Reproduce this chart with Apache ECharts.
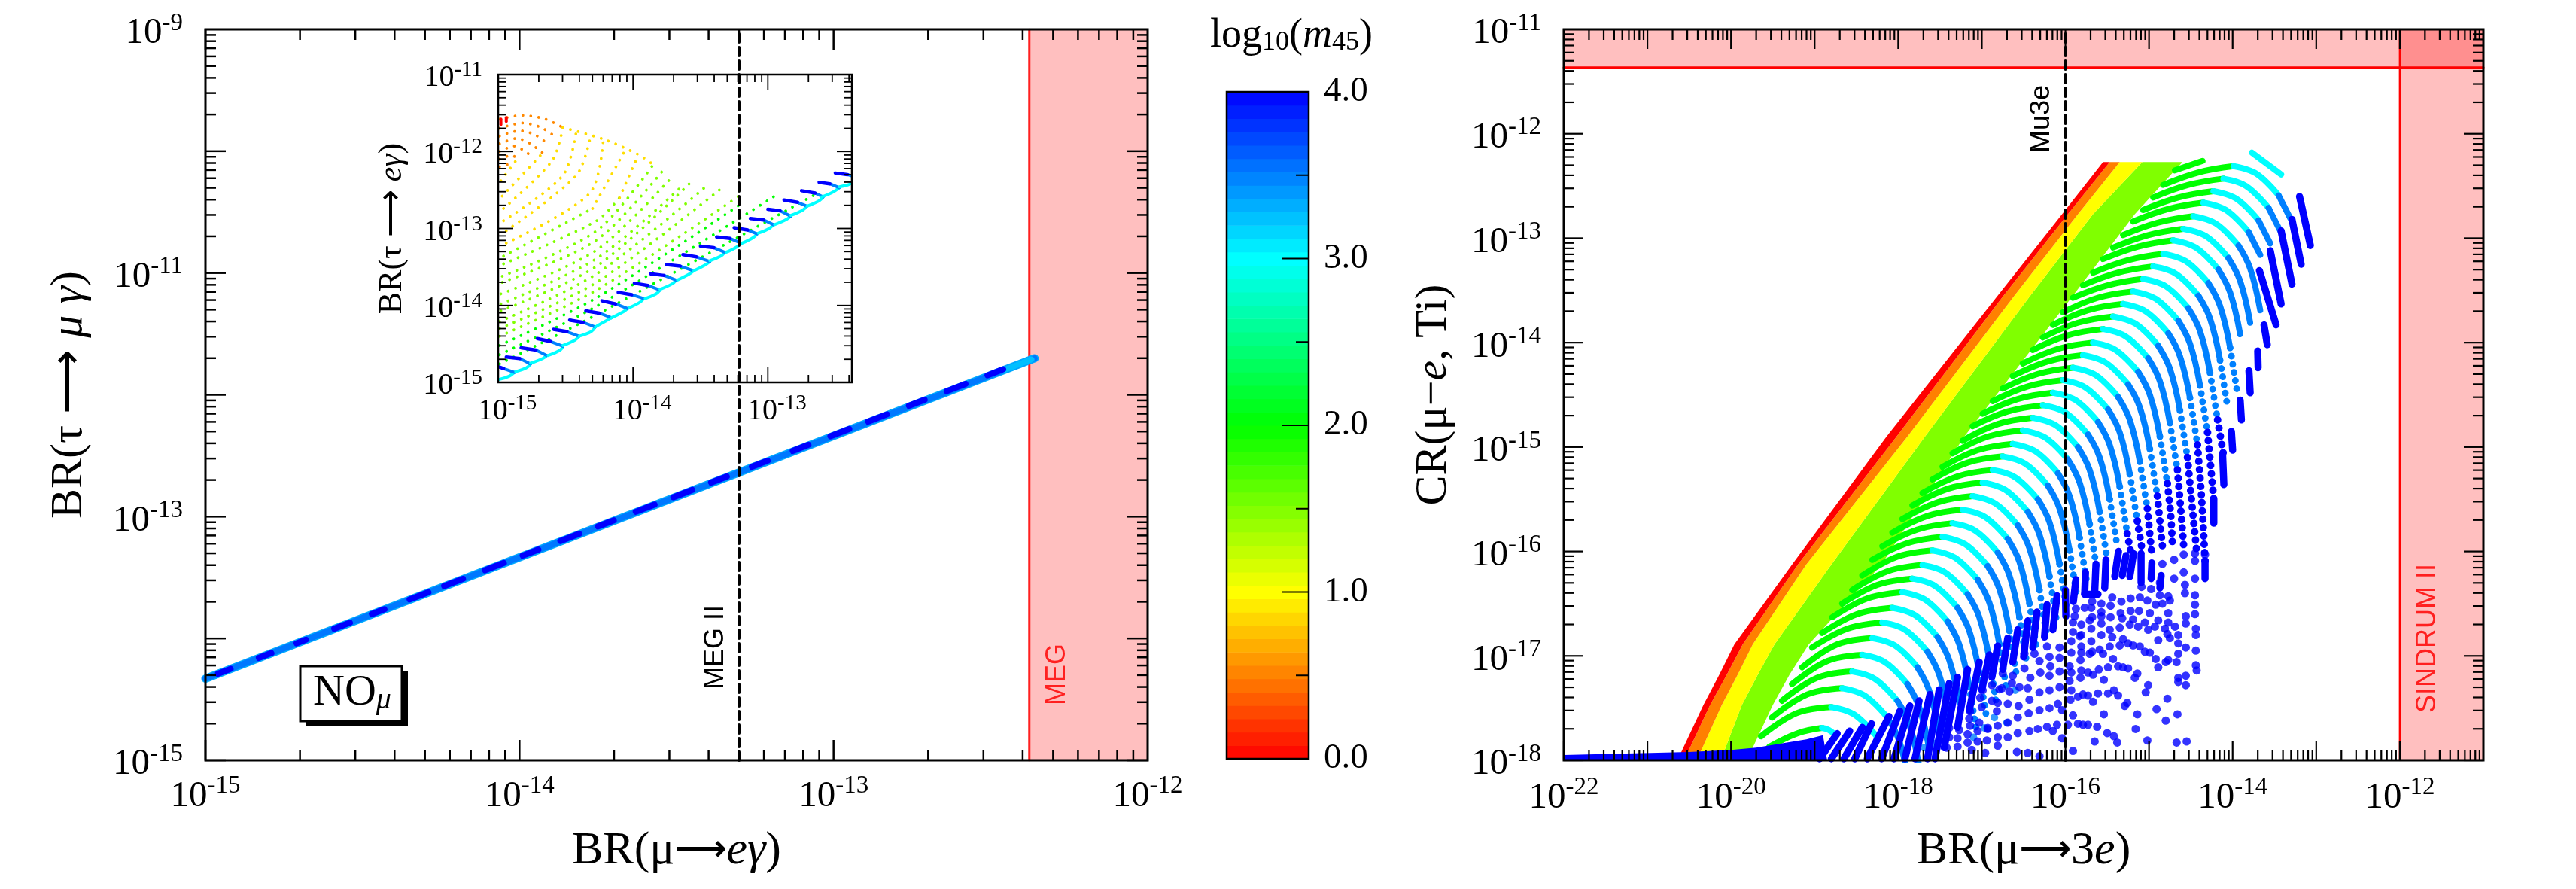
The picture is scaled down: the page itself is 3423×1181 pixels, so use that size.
<!DOCTYPE html>
<html>
<head>
<meta charset="utf-8">
<title>BR and CR scatter</title>
<style>
html,body{margin:0;background:#fff}
#chart{width:3423px;height:1181px}
</style>
<script src="https://cdn.jsdelivr.net/npm/echarts@6/dist/echarts.min.js"></script>
</head>
<body>
<div id="chart"></div>
<script>
// all points are log10(x), log10(y)

// limits
var megLimit = 4.2e-13, megTwo = 5e-14
var crLimit = 4.3e-12, sindrumLimit = 1e-12, mu3eLimit = 1e-16

// left panel, main band
var mainBand = [[-15,-14.33],[-12.36,-11.70]]
var mainTip = [[-12.46,-11.80],[-12.37,-11.71]]
var mainDashes = [
  [[-14.96,-14.29],[-14.92,-14.25]],[[-14.83,-14.16],[-14.79,-14.12]],[[-14.71,-14.04],[-14.68,-14.01]],
  [[-14.59,-13.92],[-14.54,-13.87]],[[-14.47,-13.80],[-14.43,-13.76]],[[-14.35,-13.68],[-14.29,-13.62]],
  [[-14.24,-13.57],[-14.18,-13.51]],[[-14.11,-13.44],[-14.05,-13.38]],[[-13.99,-13.32],[-13.94,-13.27]],
  [[-13.87,-13.20],[-13.81,-13.14]],[[-13.75,-13.08],[-13.70,-13.03]],[[-13.63,-12.96],[-13.57,-12.90]],
  [[-13.51,-12.84],[-13.45,-12.78]],[[-13.39,-12.72],[-13.34,-12.67]],[[-13.26,-12.59],[-13.21,-12.54]],
  [[-13.13,-12.46],[-13.08,-12.41]],[[-13.01,-12.34],[-12.95,-12.28]],[[-12.89,-12.22],[-12.83,-12.16]],
  [[-12.76,-12.09],[-12.71,-12.04]],[[-12.64,-11.97],[-12.58,-11.91]],[[-12.51,-11.84],[-12.46,-11.79]]
]

// inset, hooks: dark start, dark end, tip, lower, back on the diagonal
var insetHooks = [
  [[-14.99,-14.80],[-14.96,-14.82],[-14.88,-14.87],[-14.92,-14.92],[-14.99,-14.96]],
  [[-14.94,-14.67],[-14.84,-14.69],[-14.76,-14.76],[-14.79,-14.81],[-14.87,-14.86]],
  [[-14.83,-14.55],[-14.72,-14.58],[-14.64,-14.65],[-14.67,-14.69],[-14.76,-14.75]],
  [[-14.71,-14.43],[-14.61,-14.47],[-14.52,-14.53],[-14.54,-14.58],[-14.63,-14.65]],
  [[-14.59,-14.31],[-14.49,-14.34],[-14.40,-14.40],[-14.43,-14.45],[-14.52,-14.52]],
  [[-14.47,-14.19],[-14.37,-14.22],[-14.28,-14.28],[-14.31,-14.34],[-14.40,-14.40]],
  [[-14.35,-14.07],[-14.25,-14.10],[-14.16,-14.16],[-14.20,-14.20],[-14.28,-14.28]],
  [[-14.23,-13.94],[-14.13,-13.98],[-14.04,-14.04],[-14.07,-14.08],[-14.16,-14.16]],
  [[-14.11,-13.83],[-14.01,-13.86],[-13.92,-13.91],[-13.95,-13.96],[-14.03,-14.03]],
  [[-13.99,-13.71],[-13.89,-13.74],[-13.80,-13.80],[-13.83,-13.85],[-13.91,-13.91]],
  [[-13.87,-13.59],[-13.77,-13.61],[-13.68,-13.67],[-13.71,-13.72],[-13.80,-13.79]],
  [[-13.75,-13.47],[-13.65,-13.49],[-13.55,-13.55],[-13.59,-13.60],[-13.67,-13.67]],
  [[-13.63,-13.34],[-13.53,-13.37],[-13.43,-13.43],[-13.47,-13.48],[-13.55,-13.55]],
  [[-13.50,-13.23],[-13.40,-13.25],[-13.32,-13.31],[-13.35,-13.36],[-13.43,-13.42]],
  [[-13.38,-13.11],[-13.28,-13.13],[-13.20,-13.19],[-13.23,-13.24],[-13.31,-13.31]],
  [[-13.25,-12.99],[-13.15,-13.02],[-13.08,-13.07],[-13.11,-13.12],[-13.19,-13.19]],
  [[-13.13,-12.87],[-13.03,-12.89],[-12.96,-12.95],[-12.99,-13.00],[-13.07,-13.06]],
  [[-13.00,-12.75],[-12.91,-12.77],[-12.83,-12.84],[-12.86,-12.88],[-12.95,-12.95]],
  [[-12.88,-12.63],[-12.78,-12.66],[-12.71,-12.71],[-12.74,-12.76],[-12.83,-12.83]],
  [[-12.75,-12.51],[-12.65,-12.54],[-12.59,-12.59],[-12.62,-12.64],[-12.71,-12.71]],
  [[-12.62,-12.40],[-12.54,-12.42],[-12.47,-12.47],[-12.51,-12.52],[-12.60,-12.59]],
  [[-12.50,-12.28],[-12.41,-12.30],[-12.37,-12.32],[-12.37,-12.39],[-12.47,-12.46]]
]
var insetGreen = [
  [[-14.99,-14.76],[-14.27,-14.12],[-12.65,-12.56]],
  [[-14.99,-14.64],[-14.27,-14.01],[-12.95,-12.58]],
  [[-14.99,-14.52],[-14.27,-13.90],[-13.19,-12.67]]
]
var insetLime = [
  [[-14.99,-14.40],[-14.27,-13.80],[-13.20,-12.56]],
  [[-14.99,-14.30],[-14.27,-13.70],[-13.36,-12.50]],
  [[-14.99,-14.21],[-14.27,-13.59],[-13.45,-12.44]],
  [[-14.98,-14.07],[-14.27,-13.49],[-13.56,-12.38]],
  [[-14.98,-13.98],[-14.27,-13.39],[-13.63,-12.44]],
  [[-14.98,-13.85],[-14.27,-13.28],[-13.70,-12.31]],
  [[-14.97,-13.70],[-14.27,-13.15],[-13.77,-12.23]],
  [[-14.97,-13.62],[-14.27,-13.03],[-13.85,-12.17]],
  [[-14.96,-13.46],[-14.27,-12.90],[-14.10,-12.60]],
  [[-14.96,-13.36],[-14.30,-12.74]]
]
var insetYellow = [
  [[-14.10,-12.60],[-13.96,-12.04]],
  [[-14.30,-12.74],[-14.06,-11.99]],
  [[-14.94,-13.19],[-14.32,-12.54],[-14.22,-11.84]],
  [[-14.94,-13.03],[-14.42,-12.31],[-14.32,-11.84]],
  [[-14.96,-12.90],[-14.52,-12.31],[-14.42,-11.73]],
  [[-14.96,-12.74],[-14.60,-12.12],[-14.52,-11.69]],
  [[-14.97,-12.58],[-14.67,-12.02]],
  [[-14.98,-12.38],[-14.86,-12.10]],
  [[-14.52,-11.69],[-14.22,-11.84],[-13.96,-12.04],[-13.85,-12.17]]
]
var insetOrange = [
  [[-14.99,-11.58],[-14.82,-11.53],[-14.65,-11.58],[-14.52,-11.69]],
  [[-14.99,-11.70],[-14.82,-11.63],[-14.68,-11.69],[-14.56,-11.83]],
  [[-14.99,-11.80],[-14.84,-11.73],[-14.72,-11.79],[-14.62,-11.92]],
  [[-14.99,-11.90],[-14.86,-11.83],[-14.76,-11.90],[-14.67,-12.02]],
  [[-14.99,-12.00],[-14.88,-11.93],[-14.80,-12.00],[-14.74,-12.08]],
  [[-14.99,-12.10],[-14.90,-12.05],[-14.84,-12.12]],
  [[-14.99,-12.20],[-14.93,-12.17]]
]
var insetRed = [
  [[-14.98,-11.58],[-14.98,-11.65]],
  [[-14.94,-11.56],[-14.94,-11.61]]
]

// right panel, edges of the solid colour bands
var edge0 = [[-15.55,-12.27],[-16.04,-12.77],[-16.81,-13.55],[-18.14,-14.90],[-19.27,-16.125],[-19.96,-16.89],[-20.14,-17.18],[-20.33,-17.47],[-20.60,-17.93],[-20.65,-18]]
var edge1 = [[-15.47,-12.27],[-15.97,-12.77],[-16.74,-13.55],[-18.02,-14.90],[-19.20,-16.125],[-19.86,-16.89],[-20.05,-17.18],[-20.25,-17.47],[-20.52,-17.93],[-20.57,-18]]
var edge2 = [[-15.35,-12.27],[-15.85,-12.77],[-16.61,-13.55],[-17.89,-14.90],[-19.10,-16.125],[-19.74,-16.89],[-19.92,-17.18],[-20.11,-17.47],[-20.37,-17.93],[-20.42,-18]]
var edge3 = [[-15.08,-12.27],[-15.67,-12.77],[-16.42,-13.55],[-17.68,-14.90],[-18.80,-16.125],[-19.48,-16.89],[-19.68,-17.18],[-19.87,-17.47],[-20.09,-17.93],[-20.14,-18]]
var edge4 = [[-14.60,-12.27],[-15.17,-12.77],[-15.91,-13.55],[-17.21,-14.90],[-18.20,-16.125],[-19.07,-16.89],[-19.30,-17.18],[-19.50,-17.47],[-19.77,-17.93],[-19.80,-18]]
var darkBase = [[-22,-17.95],[-20.5,-17.92],[-20,-17.90],[-19.7,-17.88],[-19.4,-17.84],[-19.1,-17.80],[-18.9,-17.76],[-18.85,-18],[-22,-18]]

// arcs, top to bottom: green rising part ending at the apex
var arcGreen = [
  [[-14.83,-12.49],[-14.41,-12.37],[-13.99,-12.31]],[[-14.95,-12.61],[-14.53,-12.49],[-14.11,-12.43]],
  [[-15.07,-12.73],[-14.65,-12.61],[-14.23,-12.55]],[[-15.19,-12.84],[-14.77,-12.72],[-14.35,-12.66]],
  [[-15.31,-12.97],[-14.89,-12.85],[-14.47,-12.79]],[[-15.43,-13.09],[-15.01,-12.97],[-14.59,-12.91]],
  [[-15.55,-13.20],[-15.13,-13.08],[-14.71,-13.02]],[[-15.67,-13.33],[-15.25,-13.21],[-14.83,-13.15]],
  [[-15.79,-13.45],[-15.37,-13.33],[-14.95,-13.27]],[[-15.91,-13.57],[-15.49,-13.45],[-15.07,-13.39]],
  [[-16.03,-13.71],[-15.61,-13.57],[-15.19,-13.51]],[[-16.15,-13.83],[-15.73,-13.69],[-15.31,-13.63]],
  [[-16.27,-13.95],[-15.85,-13.81],[-15.43,-13.75]],[[-16.39,-14.07],[-15.97,-13.93],[-15.55,-13.87]],
  [[-16.51,-14.20],[-16.09,-14.06],[-15.67,-14.00]],[[-16.63,-14.32],[-16.21,-14.18],[-15.79,-14.12]],
  [[-16.75,-14.44],[-16.33,-14.30],[-15.91,-14.24]],[[-16.87,-14.56],[-16.45,-14.42],[-16.03,-14.36]],
  [[-16.99,-14.68],[-16.57,-14.54],[-16.15,-14.48]],[[-17.11,-14.80],[-16.69,-14.66],[-16.27,-14.60]],
  [[-17.23,-14.94],[-16.81,-14.78],[-16.39,-14.72]],[[-17.35,-15.06],[-16.93,-14.90],[-16.51,-14.84]],
  [[-17.47,-15.19],[-17.05,-15.03],[-16.63,-14.97]],[[-17.59,-15.31],[-17.17,-15.15],[-16.75,-15.09]],
  [[-17.71,-15.44],[-17.29,-15.28],[-16.87,-15.22]],[[-17.83,-15.56],[-17.41,-15.40],[-16.99,-15.34]],
  [[-17.95,-15.69],[-17.53,-15.53],[-17.11,-15.47]],[[-18.07,-15.82],[-17.65,-15.66],[-17.23,-15.60]],
  [[-18.19,-15.95],[-17.77,-15.79],[-17.35,-15.73]],[[-18.31,-16.08],[-17.89,-15.92],[-17.47,-15.86]],
  [[-18.43,-16.23],[-18.01,-16.05],[-17.59,-15.99]],[[-18.55,-16.37],[-18.13,-16.19],[-17.71,-16.13]],
  [[-18.67,-16.50],[-18.25,-16.32],[-17.83,-16.26]],[[-18.79,-16.63],[-18.37,-16.45],[-17.95,-16.39]],
  [[-18.91,-16.78],[-18.49,-16.60],[-18.07,-16.54]],[[-19.03,-16.92],[-18.61,-16.74],[-18.19,-16.68]],
  [[-19.15,-17.11],[-18.73,-16.89],[-18.31,-16.83]],[[-19.27,-17.27],[-18.85,-17.05],[-18.43,-16.99]],
  [[-19.39,-17.43],[-18.97,-17.21],[-18.55,-17.15]],[[-19.51,-17.59],[-19.09,-17.37],[-18.67,-17.31]],
  [[-19.64,-17.77],[-19.22,-17.55],[-18.80,-17.49]],[[-19.54,-17.87],[-19.20,-17.74],[-18.91,-17.69]]
]
// cyan part after the apex
var arcCyan = [
  [[-13.72,-12.38],[-13.45,-12.59]],[[-13.84,-12.50],[-13.57,-12.71]],[[-13.96,-12.62],[-13.69,-12.83]],
  [[-14.08,-12.73],[-13.81,-12.94]],[[-14.20,-12.86],[-13.93,-13.07]],[[-14.32,-12.98],[-14.05,-13.19]],
  [[-14.44,-13.09],[-14.17,-13.30]],[[-14.56,-13.22],[-14.29,-13.43]],[[-14.68,-13.34],[-14.41,-13.55]],
  [[-14.80,-13.46],[-14.53,-13.67]],[[-14.92,-13.58],[-14.65,-13.79]],[[-15.04,-13.70],[-14.77,-13.91]],
  [[-15.16,-13.82],[-14.89,-14.03]],[[-15.28,-13.94],[-15.01,-14.15]],[[-15.40,-14.07],[-15.13,-14.28]],
  [[-15.52,-14.19],[-15.25,-14.40]],[[-15.64,-14.31],[-15.37,-14.52]],[[-15.76,-14.43],[-15.49,-14.64]],
  [[-15.88,-14.55],[-15.61,-14.76]],[[-16.00,-14.67],[-15.73,-14.88]],[[-16.12,-14.79],[-15.85,-15.00]],
  [[-16.24,-14.91],[-15.97,-15.12]],[[-16.36,-15.04],[-16.09,-15.25]],[[-16.48,-15.16],[-16.21,-15.37]],
  [[-16.60,-15.29],[-16.33,-15.50]],[[-16.72,-15.41],[-16.45,-15.62]],[[-16.84,-15.54],[-16.57,-15.75]],
  [[-16.96,-15.67],[-16.69,-15.88]],[[-17.08,-15.80],[-16.81,-16.01]],[[-17.20,-15.93],[-16.93,-16.14]],
  [[-17.32,-16.06],[-17.05,-16.27]],[[-17.44,-16.20],[-17.17,-16.41]],[[-17.56,-16.33],[-17.29,-16.54]],
  [[-17.68,-16.46],[-17.41,-16.67]],[[-17.80,-16.61],[-17.53,-16.82]],[[-17.92,-16.75],[-17.65,-16.96]],
  [[-18.04,-16.90],[-17.77,-17.11]],[[-18.16,-17.06],[-17.89,-17.27]],[[-18.28,-17.22],[-18.01,-17.43]],
  [[-18.40,-17.38],[-18.13,-17.59]],[[-18.53,-17.56],[-18.26,-17.77]],[[-18.83,-17.71],[-18.75,-17.76]]
]
// lighter blue solid part, the two lowest arcs have none
var arcBlue = [
  [[-13.31,-12.81]],[[-13.43,-12.93]],[[-13.55,-13.05]],[[-13.67,-13.16]],
  [[-13.79,-13.29],[-13.67,-13.69]],[[-13.91,-13.41],[-13.79,-13.81]],[[-14.03,-13.52],[-13.91,-13.92]],
  [[-14.15,-13.65],[-14.03,-14.05]],[[-14.27,-13.77],[-14.15,-14.17]],[[-14.39,-13.89],[-14.27,-14.29]],
  [[-14.51,-14.01],[-14.39,-14.41]],[[-14.63,-14.13],[-14.51,-14.53]],[[-14.75,-14.25],[-14.63,-14.65]],
  [[-14.87,-14.37],[-14.75,-14.77]],[[-14.99,-14.50],[-14.87,-14.90]],[[-15.11,-14.62],[-14.99,-15.02]],
  [[-15.23,-14.74],[-15.11,-15.14]],[[-15.35,-14.86],[-15.23,-15.26]],[[-15.47,-14.98],[-15.35,-15.38]],
  [[-15.59,-15.10],[-15.47,-15.50]],[[-15.71,-15.22],[-15.59,-15.62]],[[-15.83,-15.34],[-15.71,-15.74]],
  [[-15.95,-15.47],[-15.83,-15.87]],[[-16.07,-15.59],[-15.95,-15.99]],[[-16.19,-15.72],[-16.07,-16.12]],
  [[-16.31,-15.84],[-16.19,-16.24]],[[-16.43,-15.97],[-16.31,-16.37]],[[-16.55,-16.10],[-16.43,-16.50]],
  [[-16.67,-16.23],[-16.55,-16.63]],[[-16.79,-16.36],[-16.67,-16.76]],[[-16.91,-16.49],[-16.79,-16.89]],
  [[-17.03,-16.63],[-16.91,-17.03]],[[-17.15,-16.76],[-17.03,-17.16]],[[-17.27,-16.89],[-17.15,-17.29]],
  [[-17.39,-17.04],[-17.27,-17.44]],[[-17.51,-17.18],[-17.39,-17.58]],[[-17.63,-17.33],[-17.51,-17.73]],
  [[-17.75,-17.49],[-17.63,-17.89]],[[-17.87,-17.65],[-17.75,-18.05]],[[-17.99,-17.81],[-17.87,-18.21]]
]
// where the lighter blue turns to separate beads, arcs 8 to 34
var beadFirstArc = 7
var arcBead = [
  [-13.94,-14.50],[-14.06,-14.62],[-14.18,-14.74],[-14.30,-14.86],[-14.42,-14.98],[-14.54,-15.10],[-14.66,-15.22],
  [-14.78,-15.35],[-14.90,-15.47],[-15.02,-15.59],[-15.14,-15.71],[-15.26,-15.83],[-15.38,-15.95],[-15.50,-16.07],
  [-15.62,-16.19],[-15.74,-16.32],[-15.86,-16.44],[-15.98,-16.57],[-16.10,-16.69],[-16.22,-16.82],[-16.34,-16.95],
  [-16.46,-17.08],[-16.58,-17.21],[-16.70,-17.34],[-16.82,-17.48],[-16.94,-17.61],[-17.06,-17.74]
]
var arcDarkBeads = [
  [[-14.18,-14.74],[-14.11,-15.07]],[[-14.30,-14.86],[-14.225,-15.51]],[[-14.42,-14.98],[-14.37,-15.5],[-14.33,-16.09]],
  [[-14.54,-15.10],[-14.48,-15.6],[-14.43,-16.0]],[[-14.66,-15.22],[-14.62,-15.6],[-14.58,-16.0]],
  [[-14.78,-15.35],[-14.74,-15.65],[-14.72,-15.93]],[[-14.90,-15.47],[-14.84,-15.95]],[[-15.02,-15.59],[-14.97,-16.0]],
  [[-15.14,-15.71],[-15.08,-16.0]],[[-15.26,-15.83],[-15.22,-16.0]]
]
// loose pieces at the top of the cloud
var topGreen = [[-14.69,-12.35],[-14.36,-12.26]]
var topCyan = [[-13.77,-12.18],[-13.42,-12.39]]
// solid dark strokes
var darkStrokes = [
  [[-18.94,-17.985],[-18.73,-17.745]],[[-18.80,-17.985],[-18.58,-17.72]],[[-18.65,-17.985],[-18.43,-17.685]],
  [[-18.52,-17.985],[-18.32,-17.65]],[[-18.37,-17.985],[-18.11,-17.58]],[[-18.20,-17.985],[-17.98,-17.53]],
  [[-18.05,-17.985],[-17.86,-17.48]],[[-17.92,-17.985],[-17.75,-17.43]],[[-17.80,-17.985],[-17.62,-17.37]],
  [[-17.65,-17.985],[-17.51,-17.325]],[[-17.56,-17.985],[-17.39,-17.265]],[[-17.45,-17.88],[-17.29,-17.205]],
  [[-17.29,-17.685],[-17.17,-17.13]],[[-17.15,-17.52],[-17.03,-17.06]],[[-17.00,-17.325],[-16.91,-16.99]],
  [[-16.88,-17.205],[-16.81,-16.905]],[[-16.75,-17.13],[-16.69,-16.83]],[[-16.63,-17.06],[-16.57,-16.75]],
  [[-16.50,-17.01],[-16.45,-16.665]],[[-16.39,-16.92],[-16.34,-16.58]],[[-16.25,-16.82],[-16.22,-16.51]],
  [[-16.15,-16.75],[-16.10,-16.425]],[[-15.995,-16.62],[-16.00,-16.37]],[[-15.905,-16.48],[-15.875,-16.27]],
  [[-15.77,-16.41],[-15.76,-16.20]],[[-15.65,-16.40],[-15.635,-16.12]],[[-15.53,-16.35],[-15.515,-16.08]],
  [[-15.41,-16.24],[-15.365,-16.00]],[[-15.32,-16.23],[-15.275,-16.04]],[[-15.23,-16.24],[-15.185,-16.02]],
  [[-15.095,-16.30],[-15.095,-16.02]],[[-14.975,-16.26],[-14.966,-16.11]],[[-14.87,-16.35],[-14.855,-16.23]],
  [[-15.77,-16.41],[-15.61,-16.41]],
  // right hand ends of the high arcs
  [[-14.33,-16.09],[-14.33,-16.26]],[[-14.225,-15.51],[-14.225,-15.73]],[[-14.12,-15.07],[-14.105,-15.36]],
  [[-14.015,-14.85],[-14.00,-15.03]],[[-13.91,-14.55],[-13.895,-14.74]],[[-13.805,-14.27],[-13.79,-14.48]],
  [[-13.70,-14.08],[-13.695,-14.24]],[[-13.625,-13.83],[-13.585,-14.02]],[[-13.68,-13.31],[-13.48,-13.83]],
  [[-13.55,-13.12],[-13.42,-13.63]],[[-13.42,-12.93],[-13.29,-13.44]],[[-13.29,-12.82],[-13.18,-13.25]],
  [[-13.20,-12.60],[-13.07,-13.07]]
]
var lightDots = [
  [-16.97,-17.69],[-17.10,-17.78],[-17.43,-17.64],[-17.42,-17.72],[-16.85,-17.59],[-16.70,-17.64],[-16.60,-17.33],[-17.69,-17.88],[-17.56,-17.84]
]
var darkDots = [
  [-14.45,-16.42],[-14.45,-16.51],[-14.45,-16.60],[-14.56,-16.62],[-14.56,-16.69],[-14.44,-16.74],[-14.44,-16.80],[-14.44,-16.95],[-14.44,-17.09],[-14.43,-17.14],
  [-14.56,-16.92],[-14.65,-16.80],[-14.65,-16.88],[-14.65,-16.98],[-14.67,-17.06],[-14.65,-17.21],[-14.65,-17.25],[-14.56,-17.19],[-14.56,-17.28],[-14.78,-17.41],
  [-14.91,-17.51],[-14.66,-17.56],[-14.80,-17.62],[-15.14,-17.56],[-15.54,-17.56],[-15.91,-17.57],[-14.67,-17.83],[-14.55,-17.82],[-15.02,-17.81],[-15.16,-17.70],
  [-15.38,-17.83],[-15.42,-17.77],[-15.50,-17.74],[-15.62,-17.68],[-15.65,-17.82],[-15.73,-17.66],[-15.79,-17.66],[-15.85,-17.65],[-15.97,-17.66],[-16.10,-17.66],
  [-16.15,-17.72],[-16.22,-17.68],[-16.33,-17.70],[-16.43,-17.72],[-16.57,-17.74],[-16.69,-17.78],[-16.81,-17.78],[-16.81,-17.86],[-15.91,-17.91],[-16.58,-17.92],
  [-16.45,-17.93],[-16.31,-17.96],[-16.04,-17.79],[-16.04,-17.52],[-16.19,-17.50],[-16.31,-17.52],[-16.44,-17.55],[-16.57,-17.59],[-16.69,-17.64],[-16.81,-17.67],
  [-16.82,-17.53],[-16.56,-17.48],[-16.69,-17.46],[-16.81,-17.45],[-16.79,-17.32],[-16.67,-17.34],[-16.55,-17.30],[-16.45,-17.31],[-16.31,-17.35],[-16.19,-17.33],
  [-16.07,-17.30],[-15.93,-17.33],[-15.95,-17.24],[-16.07,-17.15],[-16.19,-17.19],[-16.30,-17.16],[-16.42,-17.21],[-16.64,-17.26],[-16.76,-17.31],[-16.09,-17.46],
  [-15.94,-17.42],[-15.85,-17.39],[-15.79,-17.37],[-15.73,-17.38],[-15.61,-17.36],[-15.49,-17.36],[-15.42,-17.33],[-15.37,-17.38],[-15.67,-17.44],[-15.54,-17.23],
  [-15.73,-17.16],[-15.67,-17.18],[-15.60,-17.13],[-15.82,-17.21],[-15.81,-17.14],[-15.95,-17.10],[-15.93,-17.16],[-16.07,-17.02],[-16.19,-17.01],[-16.18,-17.10],
  [-15.82,-17.04],[-15.81,-16.91],[-15.81,-16.97],[-15.93,-16.97],[-15.93,-16.86],[-15.81,-16.80],[-15.69,-16.86],[-15.71,-16.98],[-15.68,-16.96],[-15.59,-16.94],
  [-15.55,-16.98],[-15.47,-16.91],[-15.43,-17.03],[-15.49,-17.11],[-15.37,-17.10],[-15.31,-17.11],[-15.25,-17.12],[-15.14,-17.17],[-15.17,-17.21],[-15.01,-17.28],
  [-15.04,-17.35],[-15.26,-17.45],[-15.29,-17.48],[-14.92,-17.03],[-14.89,-17.11],[-14.80,-17.06],[-14.77,-17.04],[-15.05,-16.96],[-14.99,-16.97],[-15.25,-16.88],
  [-15.19,-16.90],[-15.11,-16.91],[-15.35,-16.90],[-15.31,-16.84],[-15.47,-16.75],[-15.44,-16.82],[-15.57,-16.80],[-15.69,-16.74],[-15.83,-16.81],[-15.91,-16.77],
  [-15.81,-16.70],[-15.91,-16.68],[-15.71,-16.66],[-15.68,-16.63],[-15.57,-16.62],[-15.57,-16.69],[-15.46,-16.63],[-15.34,-16.59],[-15.32,-16.64],[-15.35,-16.73],
  [-15.23,-16.70],[-15.19,-16.65],[-15.13,-16.72],[-15.05,-16.68],[-15.01,-16.75],[-14.93,-16.72],[-14.89,-16.66],[-14.81,-16.74],[-14.78,-16.79],[-14.75,-16.83],
  [-14.89,-16.85],[-14.69,-16.72],[-14.77,-16.68],[-14.77,-16.59],[-14.77,-16.43],[-14.87,-16.42],[-14.99,-16.59],[-15.12,-16.57],[-15.22,-16.57],[-15.33,-16.48],
  [-15.22,-16.45],[-15.11,-16.44],[-15.02,-16.47],[-14.92,-16.51],[-14.84,-16.50],[-14.75,-16.47],[-15.44,-16.44],[-15.46,-16.52],[-15.57,-16.50],[-15.57,-16.58],
  [-15.68,-16.48],[-15.69,-16.54],[-15.77,-16.54],[-15.875,-16.55],[-15.89,-16.62],[-15.09,-16.34],[-14.975,-16.36],[-14.87,-16.30],[-14.70,-16.26],[-14.585,-16.20],
  [-14.45,-16.26],[-14.57,-16.32],[-14.57,-16.40],[-14.45,-16.09],[-14.45,-16.02],[-14.33,-16.03],[-14.585,-16.03],[-14.70,-16.08],[-14.84,-16.12],
  [-17.27,-17.71],[-17.29,-17.79],[-17.29,-17.87],[-17.17,-17.83],[-17.17,-17.75],[-17.05,-17.72],[-17.14,-17.67],[-17.15,-17.60],[-17.03,-17.64],[-17.00,-17.49],
  [-17.02,-17.40],[-17.14,-17.53],[-17.05,-17.82],[-17.12,-17.90],[-17.42,-17.88],[-17.39,-17.69],[-17.39,-17.78],[-16.99,-17.33],[-16.96,-17.93],[-16.94,-17.81],
  [-16.93,-17.69],[-16.37,-16.98],[-16.49,-16.98],[-16.63,-17.19],[-16.75,-17.17],[-16.49,-17.12],[-16.88,-17.28],[-16.88,-17.43],[-16.93,-17.70],[-16.43,-17.42],
  [-16.07,-16.92],[-16.22,-16.91],[-16.31,-17.05]
]

var colorStops = ['#ff0000','#ff8000','#ffff00','#80ff00','#00ff00','#00ff80','#00ffff','#0080ff','#0000ff']
var bandCount = 50
var colorTicks = [0, 0.5, 1, 1.5, 2, 2.5, 3, 3.5, 4]
var serif = 'Liberation Serif', sans = 'Liberation Sans'

function pow(p) { return [Math.pow(10, p[0]), Math.pow(10, p[1])] }

function line(points, color, width, grid, extra) {
  var s = {
    type: 'line', xAxisIndex: grid, yAxisIndex: grid, data: points.map(pow), symbol: 'none', silent: true,
    lineStyle: { color: color, width: width, cap: 'round' }, z: 3
  }
  if (extra) {
    if (extra.dash) s.lineStyle.type = extra.dash
    if (extra.smooth) s.smooth = extra.smooth
    if (extra.z) s.z = extra.z
  }
  return s
}

function polygon(points, color, grid, z) {
  var pts = points.map(pow)
  return {
    type: 'custom', xAxisIndex: grid, yAxisIndex: grid, silent: true, z: z, data: [pts[0]], encode: { x: 0, y: 1 },
    renderItem: function (params, api) {
      return { type: 'polygon', shape: { points: pts.map(function (p) { return api.coord(p) }) }, style: { fill: color } }
    }
  }
}

// frame, mirrored ticks and the minor decade ticks, the log axis has no 2..9 ticks of its own
function frame(grid, xr, yr, major, minor, tickWidth, frameWidth) {
  var data = [[xr[0], yr[0], 4, 0]]
  var e, m, v
  for (e = Math.floor(Math.log10(xr[0]) + 0.01); e < Math.log10(xr[1]); e++) {
    for (m = 1; m < 10; m++) {
      v = m * Math.pow(10, e)
      if (v < xr[0] * 0.999 || v > xr[1] * 1.001) continue
      data.push([v, yr[0], 0, m === 1 ? major : minor])
      data.push([v, yr[0], 1, m === 1 ? major : minor])
    }
  }
  for (e = Math.floor(Math.log10(yr[0]) + 0.01); e < Math.log10(yr[1]); e++) {
    for (m = 1; m < 10; m++) {
      v = m * Math.pow(10, e)
      data.push([xr[0], v, 2, m === 1 ? major : minor])
      data.push([xr[0], v, 3, m === 1 ? major : minor])
    }
  }
  return {
    type: 'custom', xAxisIndex: grid, yAxisIndex: grid, silent: true, z: 8, data: data, encode: { x: 0, y: 1 },
    renderItem: function (params, api) {
      var r = params.coordSys, side = api.value(2), len = api.value(3)
      if (side === 4) {
        return { type: 'rect', shape: { x: r.x, y: r.y, width: r.width, height: r.height }, style: { fill: 'none', stroke: '#000', lineWidth: frameWidth } }
      }
      var p = api.coord([api.value(0), api.value(1)]), s
      if (side === 0) s = { x1: p[0], y1: r.y + r.height, x2: p[0], y2: r.y + r.height - len }
      if (side === 1) s = { x1: p[0], y1: r.y, x2: p[0], y2: r.y + len }
      if (side === 2) s = { x1: r.x, y1: p[1], x2: r.x + len, y2: p[1] }
      if (side === 3) s = { x1: r.x + r.width, y1: p[1], x2: r.x + r.width - len, y2: p[1] }
      return { type: 'line', shape: s, style: { stroke: '#000', lineWidth: tickWidth } }
    }
  }
}

function expRich(size, supSize) {
  return {
    b: { fontFamily: serif, fontSize: size, color: '#000', fill: '#000', padding: [Math.round(size * 0.22), 0, 0, 0], lineHeight: size },
    s: { fontFamily: serif, fontSize: supSize, color: '#000', fill: '#000', verticalAlign: 'top', lineHeight: supSize }
  }
}

// ticks below 1e-20 get rounded to 0 inside the scale, those labels stay empty
function expLabel(size, supSize, which) {
  return {
    show: true, showMinLabel: true, showMaxLabel: true, hideOverlap: false,
    fontFamily: serif, color: '#000', margin: which.margin, padding: which.padding || 0,
    formatter: function (v) {
      if (!(v > 0)) return ''
      var l = Math.log10(v), e = Math.round(l)
      if (Math.abs(l - e) > 0.01) return ''
      if (which.step === 2 && (e - which.first) % 2 !== 0) return ''
      return '{b|10}{s|' + e + '}'
    },
    rich: expRich(size, supSize)
  }
}

function logAxis(grid, min, max, label, name) {
  var a = {
    gridIndex: grid, type: 'log', logBase: 10, min: min, max: max, interval: 1,
    splitNumber: Math.ceil(Math.log10(max) - Math.log10(min) - 0.001),
    axisLine: { show: false }, splitLine: { show: false }, minorTick: { show: false }, minorSplitLine: { show: false },
    axisTick: { show: false }, axisLabel: label
  }
  if (name) {
    a.name = name.text
    a.nameLocation = 'middle'
    a.nameGap = name.gap
    a.nameTextStyle = { fontFamily: serif, fontSize: name.size, color: '#000', rich: name.rich }
  }
  return a
}

function titleRich(size) {
  return {
    t: { fontFamily: serif, fontSize: size, color: '#000' },
    i: { fontFamily: serif, fontSize: size, fontStyle: 'italic', color: '#000' }
  }
}

var grids = [
  { left: 273, top: 39, width: 1252, height: 971, outerBoundsMode: 'none' },
  { left: 662, top: 99, width: 470, height: 409, outerBoundsMode: 'none' },
  { left: 1630, top: 122, width: 109, height: 886, outerBoundsMode: 'none' },
  { left: 2078, top: 39, width: 1222, height: 971, outerBoundsMode: 'none' }
]

var xAxes = [
  logAxis(0, 1e-15, 1e-12, expLabel(49, 33, { margin: 18, first: -15 })),
  logAxis(1, 1e-15, megLimit, expLabel(40, 29, { margin: 14, first: -15, padding: [0, 0, 0, 24] })),
  { gridIndex: 2, type: 'value', min: 0, max: 1, show: false },
  logAxis(3, 1e-22, 1e-11, expLabel(49, 33, { margin: 20, first: -22, step: 2 }))
]

var yAxes = [
  logAxis(0, 1e-15, 1e-9, expLabel(49, 33, { margin: 30, first: -15, step: 2 }),
    { text: '{t|BR(τ ⟶ }{i|μ γ}{t|)}', gap: 151, size: 60, rich: titleRich(60) }),
  logAxis(1, 1e-15, 1e-11, expLabel(40, 29, { margin: 21, first: -15 }),
    { text: '{t|BR(τ ⟶ }{i|eγ}{t|)}', gap: 119, size: 44, rich: titleRich(44) }),
  {
    gridIndex: 2, type: 'value', min: 0, max: 4, interval: 1, position: 'right',
    axisLine: { show: false }, splitLine: { show: false }, axisTick: { show: false },
    axisLabel: { margin: 20, fontFamily: serif, fontSize: 47, color: '#000', formatter: function (v) { return v.toFixed(1) } }
  },
  logAxis(3, 1e-18, 1e-11, expLabel(49, 33, { margin: 30, first: -18 }),
    { text: '{t|CR(μ−}{i|e}{t|, Ti)}', gap: 143, size: 60, rich: titleRich(60) })
]

var series = []

// left panel
series.push(polygon([[Math.log10(megLimit), -15], [-12, -15], [-12, -9], [Math.log10(megLimit), -9]], 'rgba(255,0,0,0.25)', 0, 1))
series.push(line([[Math.log10(megLimit), -15], [Math.log10(megLimit), -9]], '#ff2020', 3, 0, { z: 2 }))
series.push(line(mainBand, '#00aaff', 11, 0))
series.push(line(mainBand, '#0078ff', 8, 0, { z: 4 }))
series.push(line(mainTip, '#00bfff', 8, 0, { z: 5 }))
mainDashes.forEach(function (d) { series.push(line(d, '#0000ff', 8, 0, { z: 5 })) })
series.push(line([[Math.log10(megTwo), -15], [Math.log10(megTwo), -9]], '#000', 4, 0, { z: 9, dash: [11, 7] }))
series.push(frame(0, [1e-15, 1e-12], [1e-15, 1e-9], 27, 14, 2.5, 3))

// inset
function insetDots(rows, color) {
  rows.forEach(function (r) { series.push(line(r, color, 3.8, 1, { dash: [0.01, 10.5], smooth: 0.3 })) })
}
insetDots(insetGreen, '#00ff00')
insetDots(insetLime, '#80ff00')
insetDots(insetYellow, '#ffdd00')
insetDots(insetOrange, '#ff8800')
insetRed.forEach(function (r) { series.push(line(r, '#ff0000', 4, 1, { z: 4 })) })
insetHooks.forEach(function (h) {
  series.push(line([h[2], h[3], h[4]], '#00ffff', 4, 1, { z: 4, smooth: 0.4 }))
  series.push(line([h[1], h[2]], '#0080ff', 4, 1, { z: 4, smooth: 0.4 }))
  series.push(line([h[0], h[1]], '#0000ff', 4.5, 1, { z: 5 }))
})
series.push(frame(1, [1e-15, megLimit], [1e-15, 1e-11], 20, 10, 1.8, 2.5))

// colour bar
series.push({
  type: 'custom', xAxisIndex: 2, yAxisIndex: 2, silent: true, z: 2, encode: { x: 0, y: 1 },
  data: new Array(bandCount).fill(0).map(function (_, i) { return [0, i * 4 / bandCount] }),
  renderItem: function (params, api) {
    var lo = api.value(1), hi = lo + 4 / bandCount
    var a = api.coord([0, lo]), b = api.coord([1, hi])
    var t = (params.dataIndex + 0.5) / bandCount * (colorStops.length - 1), i = Math.floor(t)
    return {
      type: 'rect', shape: { x: a[0], y: b[1], width: b[0] - a[0], height: a[1] - b[1] + 0.6 },
      style: { fill: echarts.color.lerp(t - i, [colorStops[i], colorStops[i + 1]]) }
    }
  }
})
series.push({
  type: 'custom', xAxisIndex: 2, yAxisIndex: 2, silent: true, z: 8, encode: { x: 0, y: 1 },
  data: colorTicks.map(function (v) { return [1, v] }),
  renderItem: function (params, api) {
    var v = api.value(1), p = api.coord([1, v]), len = v % 1 === 0 ? 35 : 17
    var tick = { type: 'line', shape: { x1: p[0], y1: p[1], x2: p[0] - len, y2: p[1] }, style: { stroke: '#000', lineWidth: 2 } }
    if (params.dataIndex !== 0) return tick
    var r = params.coordSys
    return {
      type: 'group',
      children: [tick, { type: 'rect', shape: { x: r.x, y: r.y, width: r.width, height: r.height }, style: { fill: 'none', stroke: '#000', lineWidth: 2.5 } }]
    }
  }
})

// right panel
var crLog = Math.log10(crLimit), sinLog = Math.log10(sindrumLimit), mu3eLog = Math.log10(mu3eLimit)
series.push(polygon([[-22, crLog], [-11, crLog], [-11, -11], [-22, -11]], 'rgba(255,0,0,0.25)', 3, 1))
series.push(polygon([[sinLog, -18], [-11, -18], [-11, -11], [sinLog, -11]], 'rgba(255,0,0,0.25)', 3, 1))
series.push(line([[-22, crLog], [-11, crLog]], '#ff0000', 3, 3, { z: 2 }))
series.push(line([[sinLog, -18], [sinLog, -11]], '#ff0000', 2.5, 3, { z: 2 }))
series.push(polygon(edge3.concat(edge4.slice().reverse()), '#80ff00', 3, 2))
series.push(polygon(edge2.concat(edge3.slice().reverse()), '#ffff00', 3, 2))
series.push(polygon(edge1.concat(edge2.slice().reverse()), '#ff8000', 3, 2))
series.push(polygon(edge0.concat(edge1.slice().reverse()), '#ff0000', 3, 2))
series.push(polygon(darkBase, '#0000ff', 3, 6))
arcGreen.forEach(function (g, i) {
  var apex = g[g.length - 1], cy = [apex].concat(arcCyan[i]), last = cy[cy.length - 1]
  series.push(line(g, '#00ff00', 8, 3, { smooth: 0.4 }))
  series.push(line(cy, '#00ffff', 8, 3, { smooth: 0.4 }))
  if (arcBlue[i]) {
    var bl = [last].concat(arcBlue[i])
    series.push(line(bl, '#0080ff', 8, 3, { smooth: 0.4 }))
    var bead = arcBead[i - beadFirstArc]
    if (i >= beadFirstArc && bead) {
      series.push(line([bl[bl.length - 1], bead], '#0080ff', 9, 3, { dash: [0.01, 11] }))
    }
  }
})
series.push(line(topGreen, '#00ff00', 8, 3))
series.push(line(topCyan, '#00ffff', 8, 3))
arcDarkBeads.forEach(function (r) { series.push(line(r, '#0000ff', 10, 3, { z: 5, dash: [0.01, 11], smooth: 0.3 })) })
darkStrokes.forEach(function (r) { series.push(line(r, '#0000ff', 9.5, 3, { z: 6 })) })
series.push({
  type: 'scatter', xAxisIndex: 3, yAxisIndex: 3, silent: true, z: 5, symbolSize: 10,
  itemStyle: { color: '#0080ff' }, data: lightDots.map(pow)
})
series.push({
  type: 'scatter', xAxisIndex: 3, yAxisIndex: 3, silent: true, z: 6, symbolSize: 11,
  itemStyle: { color: '#0000ff' }, data: darkDots.map(pow)
})
series.push(line([[mu3eLog, -18], [mu3eLog, -11]], '#000', 4, 3, { z: 9, dash: [11, 7] }))
series.push(frame(3, [1e-22, 1e-11], [1e-18, 1e-11], 26, 14, 2.2, 3))

function sideText(text, x, y, color) {
  return {
    type: 'text', x: x, y: y, rotation: Math.PI / 2, z: 20,
    style: { text: text, fill: color, font: '36px "' + sans + '"', textAlign: 'center', textVerticalAlign: 'middle' }
  }
}

// the x titles go here, a second named x axis in v6 puts its name on the first grid
function xTitle(rich, x) {
  var size = 62
  return {
    type: 'text', z: 20, x: x, y: 1131,
    style: {
      text: rich, textAlign: 'center', textVerticalAlign: 'middle',
      rich: {
        t: { fontFamily: serif, fontSize: size, fill: '#000', color: '#000' },
        i: { fontFamily: serif, fontSize: size, fontStyle: 'italic', fill: '#000', color: '#000' },
        a: { fontFamily: 'DejaVu Sans', fontSize: 48, fontWeight: 'bold', fill: '#000', color: '#000' }
      }
    }
  }
}

var chart = echarts.init(document.getElementById('chart'))
chart.setOption({
  animation: false,
  backgroundColor: '#fff',
  grid: grids,
  xAxis: xAxes,
  yAxis: yAxes,
  series: series,
  graphic: [
    sideText('MEG II', 951, 860, '#000'),
    sideText('MEG', 1405, 896, '#ff2020'),
    sideText('SINDRUM II', 3226, 848, '#ff2020'),
    sideText('Mu3e', 2713, 158, '#000'),
    xTitle('{t|BR(μ}{a|⟶}{i|eγ}{t|)}', 899),
    xTitle('{t|BR(μ}{a|⟶}{t|3}{i|e}{t|)}', 2689),
    // first label of the right x axis, see expLabel
    { type: 'text', z: 20, x: 2078, y: 1030, style: { text: '{b|10}{s|-22}', textAlign: 'center', textVerticalAlign: 'top', rich: expRich(49, 33) } },
    { type: 'rect', z: 20, shape: { x: 406, y: 892, width: 136, height: 73 }, style: { fill: '#000' } },
    { type: 'rect', z: 21, shape: { x: 399, y: 885, width: 135, height: 73 }, style: { fill: '#fff', stroke: '#000', lineWidth: 3 } },
    {
      type: 'text', z: 22, x: 416, y: 921,
      style: {
        text: '{a|NO}{b|μ}', textVerticalAlign: 'middle',
        rich: {
          a: { fontFamily: serif, fontSize: 58, fill: '#000', color: '#000' },
          b: { fontFamily: serif, fontSize: 40, fontStyle: 'italic', fill: '#000', color: '#000', verticalAlign: 'bottom', padding: [16, 0, 0, 0] }
        }
      }
    },
    {
      type: 'text', z: 20, x: 1608, y: 48,
      style: {
        text: '{a|log}{s|10}{a|(}{i|m}{s|45}{a|)}', textVerticalAlign: 'middle',
        rich: {
          a: { fontFamily: serif, fontSize: 54, fill: '#000', color: '#000' },
          i: { fontFamily: serif, fontSize: 54, fontStyle: 'italic', fill: '#000', color: '#000' },
          s: { fontFamily: serif, fontSize: 36, fill: '#000', color: '#000', verticalAlign: 'bottom' }
        }
      }
    }
  ]
})
</script>
</body>
</html>
